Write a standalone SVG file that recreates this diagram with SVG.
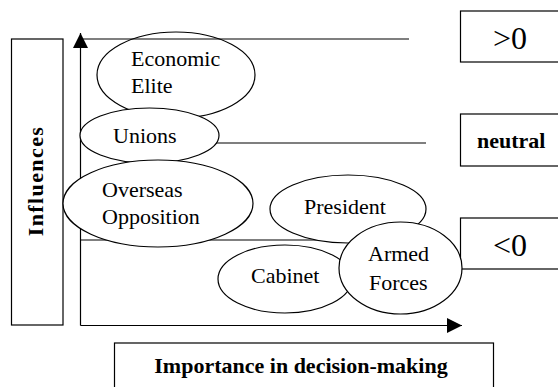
<svg xmlns="http://www.w3.org/2000/svg" width="558" height="387" viewBox="0 0 558 387">
<style>
.ln{stroke:#000;stroke-width:1.2;fill:none}
.box{stroke:#000;stroke-width:1.2;fill:#fff}
.el{stroke:#000;stroke-width:1.2;fill:#fff}
.t{font-family:"Liberation Serif","Times New Roman",serif;font-size:22px;fill:#000}
.b{font-weight:bold}
.big{font-size:32px}
</style>
<defs>
<marker id="ah" markerWidth="15" markerHeight="15" refX="15" refY="7.5" orient="auto" markerUnits="userSpaceOnUse">
<path d="M0,0 L15,7.5 L0,15 Z" fill="#000"/>
</marker>
</defs>
<rect width="558" height="387" fill="#fff"/>
<g id="influences">
<rect class="box" x="11.5" y="39" width="51.5" height="286"/>
<text class="t b" transform="translate(43,181) rotate(-90)" text-anchor="middle" letter-spacing="1.4">Influences</text>
</g>
<g id="importance">
<rect class="box" x="114.5" y="343" width="379" height="60"/>
<text class="t b" x="301" y="373" text-anchor="middle">Importance in decision-making</text>
</g>
<g id="gt0">
<rect class="box" x="460.5" y="11" width="110" height="51"/>
<text class="t big" x="493" y="49">&gt;0</text>
</g>
<g id="neutral">
<rect class="box" x="460.5" y="114" width="110" height="52"/>
<text class="t b" x="477" y="148">neutral</text>
</g>
<g id="lt0">
<rect class="box" x="460.5" y="218" width="110" height="51"/>
<text class="t big" x="493" y="256">&lt;0</text>
</g>
<g id="connectors">
<line class="ln" x1="80.5" y1="325.5" x2="80.5" y2="33" marker-end="url(#ah)"/>
<line class="ln" x1="80.5" y1="325.5" x2="462" y2="325.5" marker-end="url(#ah)"/>
<line class="ln" x1="80.5" y1="240" x2="370" y2="240"/>
<line class="ln" x1="200" y1="143" x2="426" y2="143"/>
</g>
<g id="economic-elite">
<ellipse class="el" cx="176" cy="75" rx="79" ry="43"/>
<text class="t" x="131" y="66">Economic</text>
<text class="t" x="131" y="93">Elite</text>
</g>
<g id="top-line">
<line class="ln" x1="80.5" y1="39" x2="409" y2="39"/>
</g>
<g id="unions">
<ellipse class="el" cx="149.5" cy="135.5" rx="69.5" ry="27.5"/>
<text class="t" x="113" y="143">Unions</text>
</g>
<g id="overseas-opposition">
<ellipse class="el" cx="158" cy="203.5" rx="95" ry="43.5"/>
<text class="t" x="102" y="197">Overseas</text>
<text class="t" x="102" y="224">Opposition</text>
</g>
<g id="president">
<ellipse class="el" cx="348" cy="209" rx="78" ry="34"/>
<text class="t" x="304" y="214">President</text>
</g>
<g id="cabinet">
<ellipse class="el" cx="285" cy="279" rx="67" ry="34"/>
<text class="t" x="251" y="283">Cabinet</text>
</g>
<g id="armed-forces">
<ellipse class="el" cx="400.5" cy="268" rx="61.5" ry="46"/>
<text class="t" x="368" y="261">Armed</text>
<text class="t" x="369" y="290">Forces</text>
</g>
</svg>
